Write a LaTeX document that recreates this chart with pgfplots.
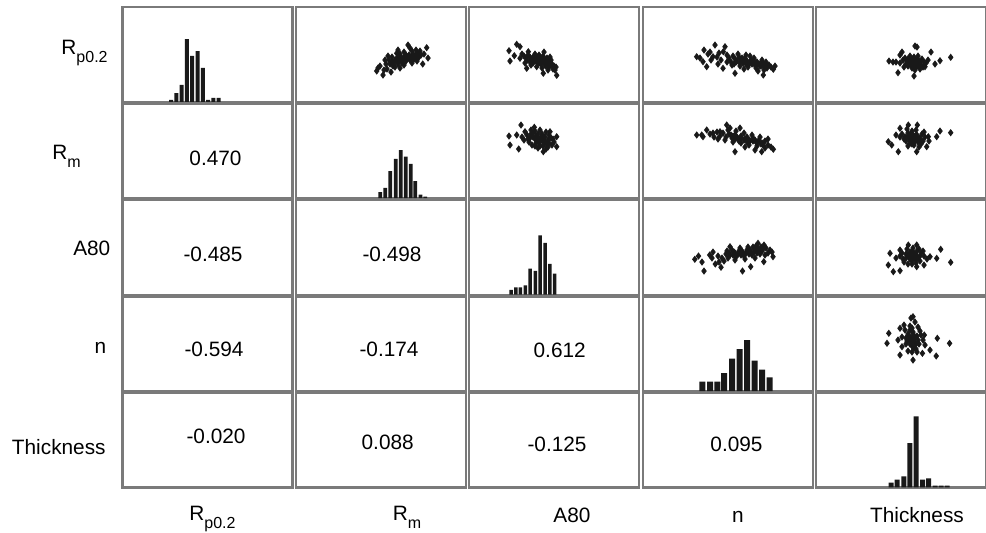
\documentclass[border=0pt]{standalone}
\usepackage{fontspec}
\setmainfont{Liberation Sans}
\usepackage{pgfplots}
\pgfplotsset{compat=1.18}
\definecolor{bord}{HTML}{7A7A7A}
% one cell of the matrix; arguments: left x, top y, right x (all in image px, 1px = 0.5pt)
\pgfplotsset{
  panel/.style n args={3}{scale only axis, width=85pt, height=47.25pt,
    anchor=north west, at={(#1*0.5pt,-#2*0.5pt)}, xmin=#1, xmax=#3,
    xtick=\empty, ytick=\empty, clip=true,
    axis line style={draw=bord, line width=1.1pt}},
  hbar/.style={ybar, bar shift=0pt, bar width=#1, fill=black!90, draw=none},
  pts/.style={only marks, mark=diamond*, mark size=1.5pt, black!90},
}
\newcommand{\lab}{\fontsize{10.4}{12}\selectfont}
\newcommand{\sub}[1]{\raisebox{-4pt}{\fontsize{8}{9}\selectfont #1}}

\begin{document}
\begin{tikzpicture}
\path[use as bounding box] (0,0) rectangle (493pt,-266pt);

% ---------- row 1 ----------
\begin{axis}[panel={122.5}{7.3}{292.5}, ymin=0, ymax=94.5]
\addplot[hbar=4] coordinates {(171,2) (176.3,8.7) (181.6,17) (186.9,62.7) (192.2,46)
  (197.5,50.7) (202.8,34) (208.1,2) (213.4,4) (218.7,4)};
\end{axis}
\begin{axis}[panel={295.9}{7.3}{465.9}, ymin=7.3, ymax=101.8, y dir=reverse]
\addplot[pts] coordinates {(376.7,71) (383,75) (385,60) (380,66) (378,68) (387,69) (390,64)
  (392,62) (395,60) (397,58) (399,61) (401,57) (403,59) (405,56) (407,58) (409,55) (411,57)
  (413,54) (415,56) (417,53) (419,56.7) (421,55) (396.7,53.3) (408,45) (426.7,47.7)
  (422.7,64) (393,66) (398,64) (402,63) (406,61) (410,60) (414,59) (418,58) (392,57)
  (400,54) (404,52) (412,51) (416,50) (420,51) (424,54) (389,60) (386,64) (395,67)
  (404,65) (412,63) (388,56) (398,50) (410,48) (428,58) (384,70) (391,72) (400,68) (417,61)
  (396,60) (400,59) (404,58) (408,57) (412,56) (416,55) (398,62) (402,61) (406,60)
  (410,59) (414,58) (400,56) (406,55) (394,63) (418,54)};
\end{axis}
\begin{axis}[panel={469.3}{7.3}{639.3}, ymin=7.3, ymax=101.8, y dir=reverse]
\addplot[pts] coordinates {(516.7,44.3) (520,46.7) (509,50.7) (514.3,55.7) (510,61)
  (520,58.3) (528.3,51.7) (556.7,75.3) (543.3,73.3) (526.7,68.3) (536.7,66.7)
  (524,56) (526,58) (528,55) (530,57) (532,59) (534,56) (536,58) (538,60) (540,57)
  (542,59) (544,61) (546,63) (548,60) (550,62) (552,64) (554,66) (556,67) (530,62)
  (533,63) (537,62) (541,64) (545,65) (549,67) (553,69) (535,54) (539,55) (543,56)
  (547,58) (551,60) (527,60) (531,65) (542,68) (548,70) (555,70) (522,54) (525,63)
  (534,60) (540,62) (546,66) (544,52) (550,57)
  (533,58) (537,59) (541,60) (545,61) (549,63) (535,61) (539,63) (543,62) (547,64)
  (551,65) (531,60) (544,58) (538,57)};
\end{axis}
\begin{axis}[panel={642.7}{7.3}{812.7}, ymin=7.3, ymax=101.8, y dir=reverse]
\addplot[pts] coordinates {(696.7,56.7) (704,50) (715,45) (725,46.7) (723.3,51.7)
  (713,56.7) (703,61.7) (706.7,66.7) (723,68.3) (735,73.3) (763.3,75) (773.3,69.3)
  (700,58) (708,54) (711,60) (717,57) (719,53) (721,60) (727,55) (729,58) (731,62)
  (733,56) (735,59) (737,61) (739,57) (741,60) (743,63) (745,58) (747,61) (749,64)
  (751,60) (753,63) (755,65) (757,62) (759,64) (761,66) (763,63) (765,66) (767,68)
  (769,65) (771,67) (732,65) (740,66) (748,67) (756,68) (764,70) (738,54) (746,55)
  (754,58) (762,60) (727,62) (718,64) (710,52) (744,69) (758,71) (750,56) (766,62) (775,66)
  (736,62) (740,63) (744,61) (748,63) (752,64) (756,65) (760,66) (764,67) (742,58)
  (750,62) (758,64) (766,64) (734,64) (746,64) (754,61) (762,62)};
\end{axis}
\begin{axis}[panel={816.1}{7.3}{986.1}, ymin=7.3, ymax=101.8, y dir=reverse]
\addplot[pts] coordinates {(889,61) (893,62) (900,55) (902,52) (915,46) (917,47) (931,52)
  (935,64) (940,60.7) (950.7,57.3) (898,72.7) (914,76) (925,66.7) (928,60)
  (905,58) (907,61) (909,63) (911,59) (913,62) (915,64) (917,60) (919,63) (921,65)
  (908,66) (912,68) (916,67) (920,69) (910,56) (914,57) (918,56) (922,59) (924,62)
  (906,64) (903,60) (900,63) (896,62) (926,63) (911,65) (915,70) (919,61) (909,60)
  (913,66) (917,65) (923,67) (904,67)
  (908,59) (912,60) (916,62) (920,62) (910,64) (914,63) (918,66) (911,62) (915,60) (913,59)};
\end{axis}

% ---------- row 2 ----------
\begin{axis}[panel={122.5}{103.7}{292.5}, ymin=0, ymax=94.5]
\end{axis}
\begin{axis}[panel={295.9}{103.7}{465.9}, ymin=0, ymax=94.5]
\addplot[hbar=3.7] coordinates {(380.2,6) (385.3,10.3) (390.3,27) (395.7,39.3) (400.8,48)
  (405.8,41.7) (410.8,34.3) (415.3,17) (420.5,3.7) (425.3,1.7)};
\end{axis}
\begin{axis}[panel={469.3}{103.7}{639.3}, ymin=103.7, ymax=198.2, y dir=reverse]
\addplot[pts] coordinates {(521,125) (509,136) (510,145) (518.7,149) (543.3,151.7)
  (534.3,127.3) (516.7,135) (525,131.7) (556.7,146.7) (556.7,136.7) (550,131.7)
  (527,135) (530,138) (533,133) (536,136) (539,139) (542,134) (545,137) (548,140)
  (551,138) (554,142) (529,142) (532,145) (536,143) (540,146) (544,144) (548,147)
  (552,145) (535,131) (540,130) (546,132) (528,139) (537,140) (543,141) (549,135)
  (531,130) (524,140) (538,148) (546,149) (553,139) (522,137) (541,137) (535,146)
  (533,137) (537,138) (541,140) (545,142) (549,143) (531,134) (535,139) (539,143)
  (543,146) (547,144) (538,134) (544,137)};
\end{axis}
\begin{axis}[panel={642.7}{103.7}{812.7}, ymin=103.7, ymax=198.2, y dir=reverse]
\addplot[pts] coordinates {(696.7,135) (703,136.7) (701.7,135) (713,133) (726.7,125)
  (735,151.7) (706.7,130) (720,131.7) (773.3,149.3) (761.7,151.7)
  (710,134) (714,137) (717,132) (720,136) (723,133) (726,137) (729,134) (732,138)
  (735,135) (738,139) (741,136) (744,140) (747,137) (750,141) (753,138) (756,142)
  (759,140) (762,143) (765,141) (768,145) (771,147) (728,130) (736,131) (744,133)
  (752,135) (760,137) (733,142) (741,143) (749,145) (757,146) (765,148) (725,140)
  (718,139) (745,147) (730,128) (740,128) (768,139) (755,150)
  (733,136) (737,137) (741,138) (745,139) (749,140) (753,141) (757,143) (761,144)
  (739,141) (747,142) (755,140) (735,139) (763,145) (731,135)};
\end{axis}
\begin{axis}[panel={816.1}{103.7}{986.1}, ymin=103.7, ymax=198.2, y dir=reverse]
\addplot[pts] coordinates {(888.3,141.7) (891.7,145) (898.3,151.7) (900,128.3)
  (908.3,125) (917.3,125) (928.3,136.7) (936.7,136.7) (940,131) (950.7,132.7)
  (916.7,151.7) (926.7,146.7) (902,134) (905,137) (908,133) (911,136) (914,139)
  (917,135) (920,138) (923,141) (906,141) (910,143) (914,145) (918,142) (922,134)
  (912,131) (916,130) (904,139) (908,146) (919,147) (925,137) (909,139) (913,135)
  (921,144) (900,137) (896,135) (915,141) (907,129) (924,132) (929,141)
  (908,136) (912,138) (916,137) (920,140) (910,140) (914,142) (918,139) (911,134)
  (915,136) (912,144)};
\end{axis}

% ---------- row 3 ----------
\begin{axis}[panel={122.5}{200.1}{292.5}, ymin=0, ymax=94.5]
\end{axis}
\begin{axis}[panel={295.9}{200.1}{465.9}, ymin=0, ymax=94.5]
\end{axis}
\begin{axis}[panel={469.3}{200.1}{639.3}, ymin=0, ymax=94.5]
\addplot[hbar=3.5] coordinates {(511,4.7) (515.8,7.3) (520.3,7.3) (525.3,9.3) (530.2,26)
  (535.3,23.7) (540.2,59.3) (545,51.7) (549.8,30.7) (554.5,21)};
\end{axis}
\begin{axis}[panel={642.7}{200.1}{812.7}, ymin=200.1, ymax=294.6, y dir=reverse]
\addplot[pts] coordinates {(694.8,259.3) (704,271) (698.5,256) (709.7,255) (715.3,264)
  (721,267.3) (773,256.7) (742.5,271) (750.7,266.7) (763.8,261.7) (730,246.7) (758,243.3)
  (712,258) (718,256) (722,258) (726,254) (730,255) (734,252) (738,254) (742,251)
  (746,253) (750,250) (754,252) (758,249) (762,251) (766,248) (770,250) (728,258)
  (736,257) (744,256) (752,255) (760,254) (768,253) (732,250) (740,248) (748,247)
  (756,246) (764,245) (724,261) (719,262) (735,260) (745,259) (755,258) (713,252)
  (765,255) (702,262) (727,251) (772,252)
  (735,253) (739,251) (743,253) (747,250) (751,252) (755,249) (759,251) (763,249)
  (741,255) (749,254) (757,253) (733,255) (729,253) (753,247) (761,247)};
\end{axis}
\begin{axis}[panel={816.1}{200.1}{986.1}, ymin=200.1, ymax=294.6, y dir=reverse]
\addplot[pts] coordinates {(888.3,265) (893.3,271.7) (900,270.7) (890,253.3) (900,250)
  (908.3,245) (916.7,245) (924,265) (936.7,258.3) (940.7,249.3) (950.7,262.3)
  (930,256.7) (916.7,266.7) (900,256) (903,259) (906,254) (909,257) (912,252)
  (915,255) (918,258) (921,253) (924,256) (904,262) (908,264) (912,261) (916,263)
  (920,261) (907,249) (913,248) (919,249) (923,251) (910,259) (896,258) (927,259)
  (914,258) (902,253) (917,251)
  (908,255) (911,255) (914,253) (917,256) (910,252) (913,257) (916,260) (912,264)
  (906,258) (920,256)};
\end{axis}

% ---------- row 4 ----------
\begin{axis}[panel={122.5}{296.5}{292.5}, ymin=0, ymax=94.5]
\end{axis}
\begin{axis}[panel={295.9}{296.5}{465.9}, ymin=0, ymax=94.5]
\end{axis}
\begin{axis}[panel={469.3}{296.5}{639.3}, ymin=0, ymax=94.5]
\end{axis}
\begin{axis}[panel={642.7}{296.5}{812.7}, ymin=0, ymax=94.5]
\addplot[hbar=6] coordinates {(702.3,9.3) (710.2,9.3) (717.3,9.3) (724.2,18) (732,32.3)
  (739.7,42) (747.2,51) (754.7,30.3) (762,21.3) (769.7,13.7)};
\end{axis}
\begin{axis}[panel={816.1}{296.5}{986.1}, ymin=296.5, ymax=391, y dir=reverse]
\addplot[pts] coordinates {(949.6,343.3) (937.3,338.3) (936.2,356) (887,343.3) (900,355)
  (913,360) (913,316.7) (888.8,333.3) (900,328.3) (924.3,335) (930,350) (902,346.7)
  (922.4,353.3) (905,330) (908,334) (911,338) (914,342) (917,336) (920,331) (910,326)
  (915,322) (912,346) (916,349) (906,344) (902,337) (919,344) (923,340) (908,351)
  (913,332) (918,327) (904,325) (911,318) (898,340) (925,345) (909,340) (914,336)
  (917,352) (921,335) (906,338)
  (910,330) (913,334) (912,340) (915,338) (909,336) (916,344) (910,344) (912,328)
  (907,341) (918,340) (914,348) (912,352)};
\end{axis}

% ---------- row 5 ----------
\begin{axis}[panel={122.5}{392.9}{292.5}, ymin=0, ymax=94.5]
\end{axis}
\begin{axis}[panel={295.9}{392.9}{465.9}, ymin=0, ymax=94.5]
\end{axis}
\begin{axis}[panel={469.3}{392.9}{639.3}, ymin=0, ymax=94.5]
\end{axis}
\begin{axis}[panel={642.7}{392.9}{812.7}, ymin=0, ymax=94.5]
\end{axis}
\begin{axis}[panel={816.1}{392.9}{986.1}, ymin=0, ymax=94.5]
\addplot[hbar=5] coordinates {(891,4.7) (897,7.7) (903.8,11) (909.8,44.3) (916.2,71)
  (922.5,7.7) (928.5,9) (935,1.7) (941,1.7) (947,1.7)};
\end{axis}

% correlation coefficients
\begin{scope}[every node/.style={inner sep=0pt, font=\lab}]
\node at (215.5*0.5pt,-158*0.5pt) {0.470};
\node at (213*0.5pt,-254*0.5pt) {-0.485};
\node at (392*0.5pt,-254*0.5pt) {-0.498};
\node at (214*0.5pt,-349*0.5pt) {-0.594};
\node at (389*0.5pt,-349*0.5pt) {-0.174};
\node at (559.7*0.5pt,-350.8*0.5pt) {0.612};
\node at (216*0.5pt,-436.7*0.5pt) {-0.020};
\node at (387.7*0.5pt,-442.5*0.5pt) {0.088};
\node at (557*0.5pt,-444*0.5pt) {-0.125};
\node at (736.5*0.5pt,-444*0.5pt) {0.095};
% row labels
\node[anchor=base east] at (108*0.5pt,-54*0.5pt) {R\sub{p0.2}};
\node[anchor=base east] at (81*0.5pt,-159*0.5pt) {R\sub{m}};
\node[anchor=base east] at (110.7*0.5pt,-255*0.5pt) {A80};
\node[anchor=base east] at (106.7*0.5pt,-353*0.5pt) {n};
\node[anchor=base east] at (106*0.5pt,-454*0.5pt) {Thickness};
% column labels
\node[anchor=base] at (212.5*0.5pt,-520*0.5pt) {R\sub{p0.2}};
\node[anchor=base] at (407*0.5pt,-520*0.5pt) {R\sub{m}};
\node[anchor=base] at (572*0.5pt,-522*0.5pt) {A80};
\node[anchor=base] at (738*0.5pt,-522*0.5pt) {n};
\node[anchor=base] at (917*0.5pt,-522*0.5pt) {Thickness};
\end{scope}
\end{tikzpicture}
\end{document}
